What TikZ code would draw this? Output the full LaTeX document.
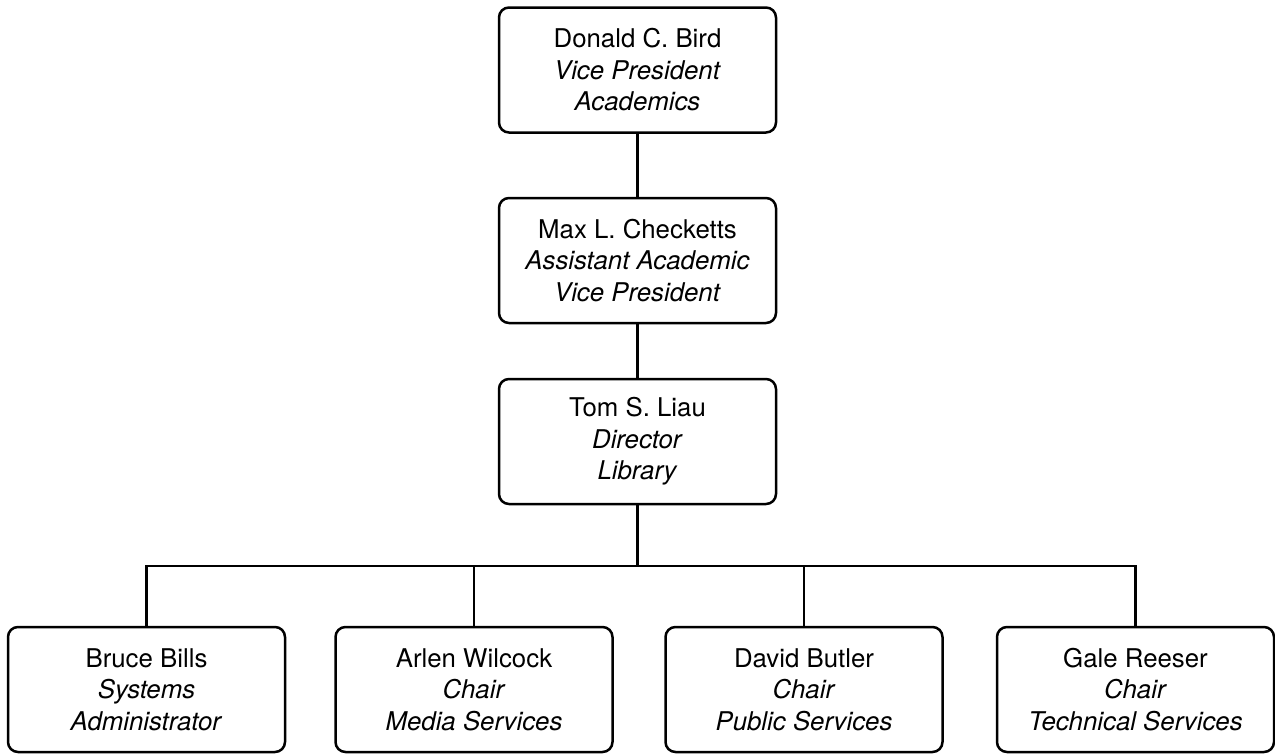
\documentclass[tikz,border=0pt]{standalone}
\usepackage{fontspec}
\setmainfont{TeX Gyre Heros}
\begin{document}
\begin{tikzpicture}[x=1pt,y=-1pt,
  person/.style={draw, line width=2.5pt, rounded corners=10pt,
    minimum width=277pt, minimum height=125pt, align=center,
    inner sep=0pt, font=\fontsize{25.8}{31.5}\selectfont},
  link/.style={line width=2.5pt}]
\useasboundingbox (0,0) rectangle (1275,753);

\node[person] (vp)  at (637.5,70)  {Donald C. Bird\\\textit{Vice President}\\\textit{Academics}};
\node[person] (avp) at (637.5,260.5) {Max L. Checketts\\\textit{Assistant Academic}\\\textit{Vice President}};
\node[person] (lib) at (637.5,441.5) {Tom S. Liau\\\textit{Director}\\\textit{Library}};

\node[person] (sys) at (146.5,689.5)  {Bruce Bills\\\textit{Systems}\\\textit{Administrator}};
\node[person] (med) at (474,689.5)    {Arlen Wilcock\\\textit{Chair}\\\textit{Media Services}};
\node[person] (pub) at (804,689.5)    {David Butler\\\textit{Chair}\\\textit{Public Services}};
\node[person] (tec) at (1135.5,689.5) {Gale Reeser\\\textit{Chair}\\\textit{Technical Services}};

\coordinate (bar) at (637.5,566);

\draw[link] (vp) -- (avp);
\draw[link] (avp) -- (lib);
\draw[link] (lib.south) -- (bar);
\draw[link] (sys.north) -- (sys.north |- bar) -- (tec.north |- bar) -- (tec.north);
\draw[link] (med.north) -- (med.north |- bar);
\draw[link] (pub.north) -- (pub.north |- bar);
\end{tikzpicture}
\end{document}
